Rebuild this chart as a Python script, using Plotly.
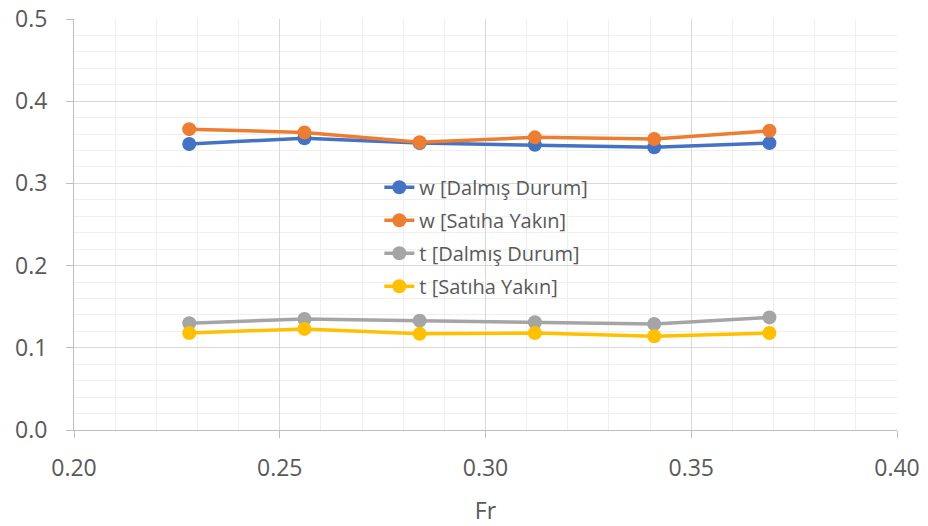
import plotly.graph_objects as go

# Froude numbers tested
fr = [0.228, 0.256, 0.284, 0.312, 0.341, 0.369]

# Wake fraction (w) and thrust deduction (t) for both conditions
w_dalmis = [0.348, 0.355, 0.349, 0.347, 0.344, 0.349]
w_satiha = [0.366, 0.362, 0.350, 0.356, 0.354, 0.364]
t_dalmis = [0.130, 0.135, 0.133, 0.131, 0.129, 0.137]
t_satiha = [0.118, 0.123, 0.117, 0.118, 0.114, 0.118]

series = [
    ("w [Dalmış Durum]", w_dalmis, "#4472C4"),
    ("w [Satıha Yakın]", w_satiha, "#ED7D31"),
    ("t [Dalmış Durum]", t_dalmis, "#A5A5A5"),
    ("t [Satıha Yakın]", t_satiha, "#FFC000"),
]

fig = go.Figure()
for i, (name, vals, color) in enumerate(series):
    fig.add_trace(go.Scatter(
        x=fr, y=vals, name=name, mode="lines+markers",
        line=dict(color=color, width=3.5),
        marker=dict(color=color, size=14),
        legendgroup=f"g{i}",
    ))

font_family = "Open Sans, Segoe UI, sans-serif"
tick_color = "#595959"

fig.update_layout(
    width=928, height=526,
    margin=dict(l=74, r=31, t=19, b=96),
    paper_bgcolor="white", plot_bgcolor="white",
    font=dict(family=font_family, color=tick_color),
    showlegend=True,
    legend=dict(
        x=0.371, y=0.638, xanchor="left", yanchor="top",
        bgcolor="rgba(255,255,255,0)",
        font=dict(size=20, color=tick_color),
        traceorder="grouped", tracegroupgap=4,
    ),
    xaxis=dict(
        range=[0.2, 0.4], dtick=0.05, tickformat=".2f",
        showgrid=True, gridcolor="#d9d9d9", gridwidth=1,
        minor=dict(dtick=0.01, showgrid=True, gridcolor="#efefef"),
        showline=True, linecolor="#bfbfbf", linewidth=1,
        ticks="outside", ticklen=7, tickcolor="#bfbfbf",
        ticklabelstandoff=10,
        tickfont=dict(size=23, color=tick_color),
        title=dict(text="Fr", font=dict(size=23, color=tick_color), standoff=22),
        zeroline=False, automargin=False,
    ),
    yaxis=dict(
        range=[0, 0.5], dtick=0.1, tickformat=".1f",
        showgrid=True, gridcolor="#d9d9d9", gridwidth=1,
        minor=dict(dtick=0.02, showgrid=True, gridcolor="#efefef"),
        showline=True, linecolor="#bfbfbf", linewidth=1,
        ticks="outside", ticklen=7, tickcolor="#bfbfbf",
        ticklabelstandoff=14,
        tickfont=dict(size=23, color=tick_color),
        zeroline=False, automargin=False,
    ),
)

fig.write_html("out.html")
